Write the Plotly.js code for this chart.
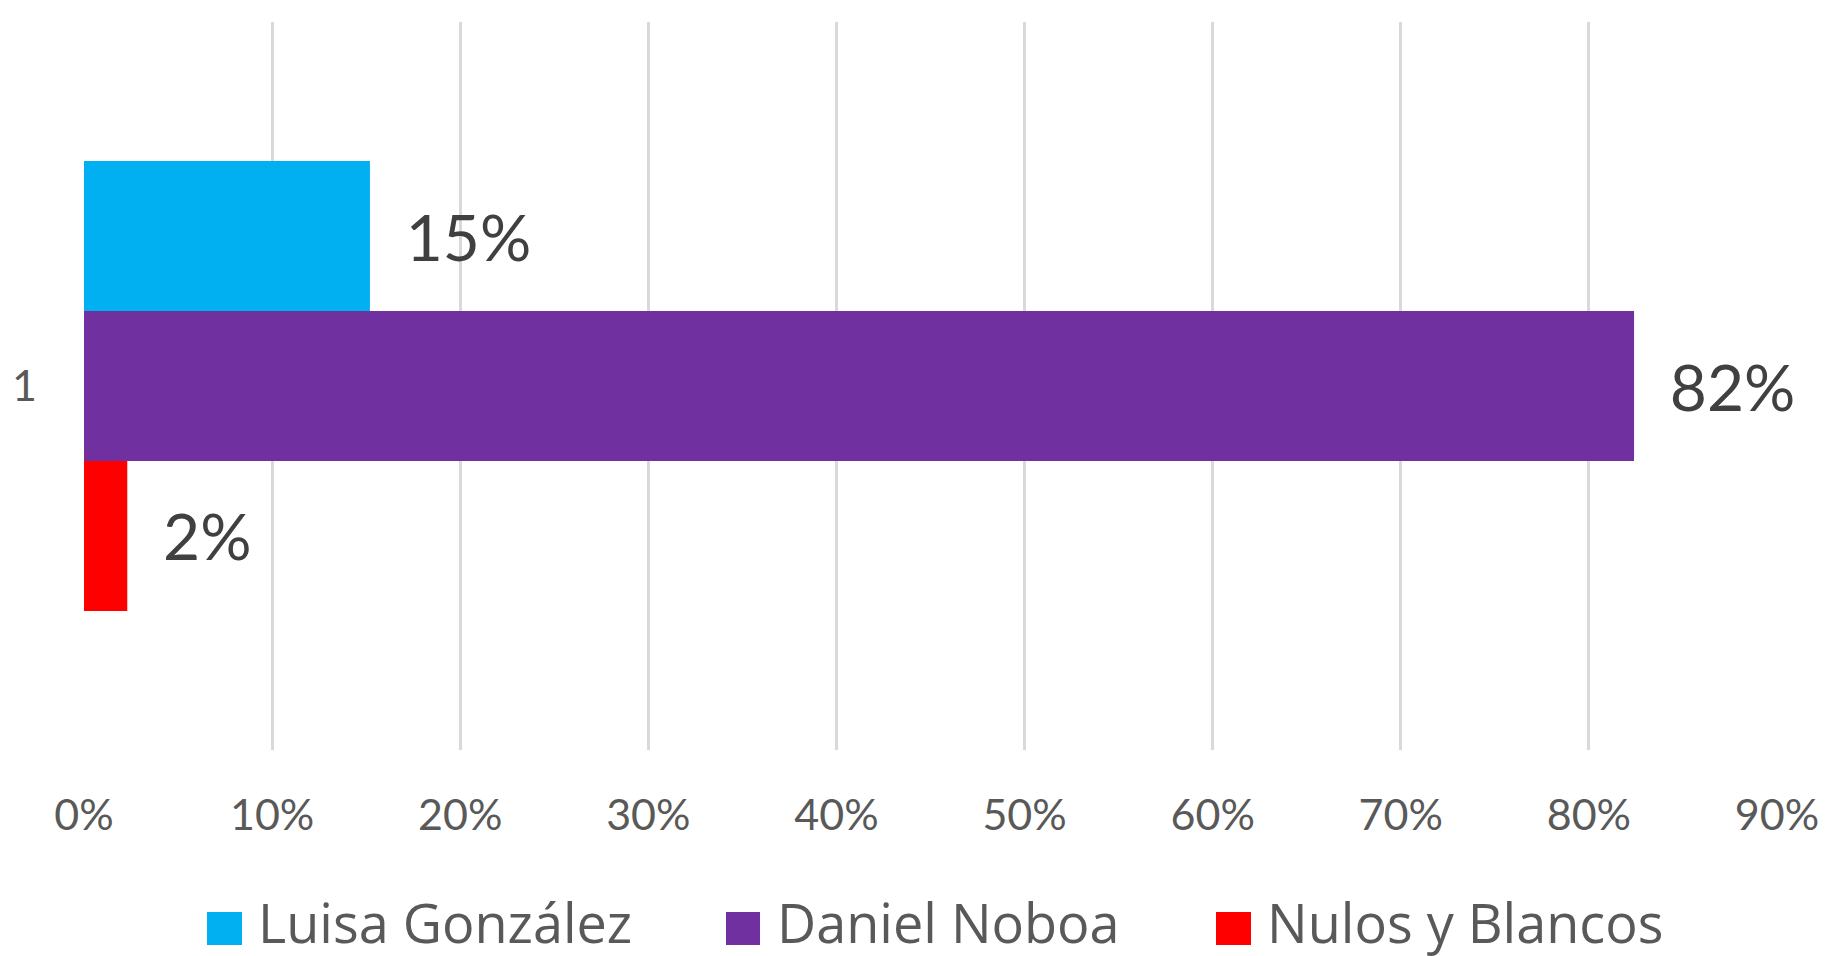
<!DOCTYPE html>
<html>
<head>
<meta charset="utf-8">
<script src="https://cdn.plot.ly/plotly-3.0.1.min.js"></script>
<style>
  html, body { margin: 0; padding: 0; background: #ffffff; }
  #chart { width: 1826px; height: 956px; }
</style>
</head>
<body>
<div id="chart"></div>
<script>
// ---- Data ----
var categories = ['1'];
var seriesNames = ['Luisa González', 'Daniel Noboa', 'Nulos y Blancos'];
var luisaValues = [0.152];
var danielValues = [0.824];
var nulosValues = [0.023];
var seriesColors = ['#00B0F0', '#7030A0', '#FF0000'];
var xTickValues = [0, 0.1, 0.2, 0.3, 0.4, 0.5, 0.6, 0.7, 0.8, 0.9];

var seriesValues = [luisaValues, danielValues, nulosValues];

var FONT = 'Lato, "Open Sans", sans-serif';
var LEGEND_FONT = '"Open Sans", Lato, sans-serif';

var traces = seriesValues.map(function (vals, i) {
  return {
    type: 'bar',
    orientation: 'h',
    name: seriesNames[i],
    y: categories,
    x: vals,
    marker: { color: seriesColors[i], line: { width: 0 } },
    text: vals.map(function (v) { return '\u00a0\u00a0' + Math.round(v * 100) + '%'; }),
    textposition: 'outside',
    textfont: { family: FONT, size: 64, color: '#404040' },
    cliponaxis: false,
    constraintext: 'none',
    hoverinfo: 'name+x',
    showlegend: false
  };
});

// plot area in pixels
var L = 84, R = 1777, T = 22, B = 750;
var W = R - L, H = B - T;
function px(x) { return (x - L) / W; }
function py(y) { return (B - y) / H; }

var legendItems = [
  { sx0: 207, sx1: 242, tx: 256 },
  { sx0: 726, sx1: 760, tx: 775 },
  { sx0: 1216, sx1: 1251, tx: 1265 }
];
var legendY0 = 912, legendY1 = 945, legendTextY = 922;

var shapes = legendItems.map(function (it, i) {
  return {
    type: 'rect', xref: 'paper', yref: 'paper',
    x0: px(it.sx0), x1: px(it.sx1), y0: py(legendY1), y1: py(legendY0),
    fillcolor: seriesColors[i], line: { width: 0 }
  };
});
var annotations = legendItems.map(function (it, i) {
  return {
    xref: 'paper', yref: 'paper', x: px(it.tx), y: py(legendTextY),
    xanchor: 'left', yanchor: 'middle', showarrow: false,
    text: seriesNames[i],
    font: { family: LEGEND_FONT, size: 54, color: '#595959' }
  };
});

var layout = {
  width: 1826, height: 956,
  margin: { l: L, r: 1826 - R, t: T, b: 956 - B, pad: 0 },
  paper_bgcolor: '#ffffff', plot_bgcolor: '#ffffff',
  barmode: 'group',
  bargap: 0.382,
  bargroupgap: 0,
  showlegend: false,
  xaxis: {
    range: [0, 0.9],
    tickvals: xTickValues,
    tickformat: '.0%',
    showgrid: true, gridcolor: '#d9d9d9', gridwidth: 3,
    zeroline: false, showline: false, ticks: '',
    ticklabelstandoff: 36,
    tickfont: { family: FONT, size: 43, color: '#595959' },
    fixedrange: true
  },
  yaxis: {
    type: 'category',
    range: [0.5, -0.5],
    showgrid: false, zeroline: false, showline: false, ticks: '',
    ticklabelstandoff: 46,
    tickfont: { family: FONT, size: 43, color: '#595959' },
    fixedrange: true
  },
  shapes: shapes,
  annotations: annotations,
  font: { family: FONT }
};

Plotly.newPlot('chart', traces, layout, { displayModeBar: false, staticPlot: true });
</script>
</body>
</html>
